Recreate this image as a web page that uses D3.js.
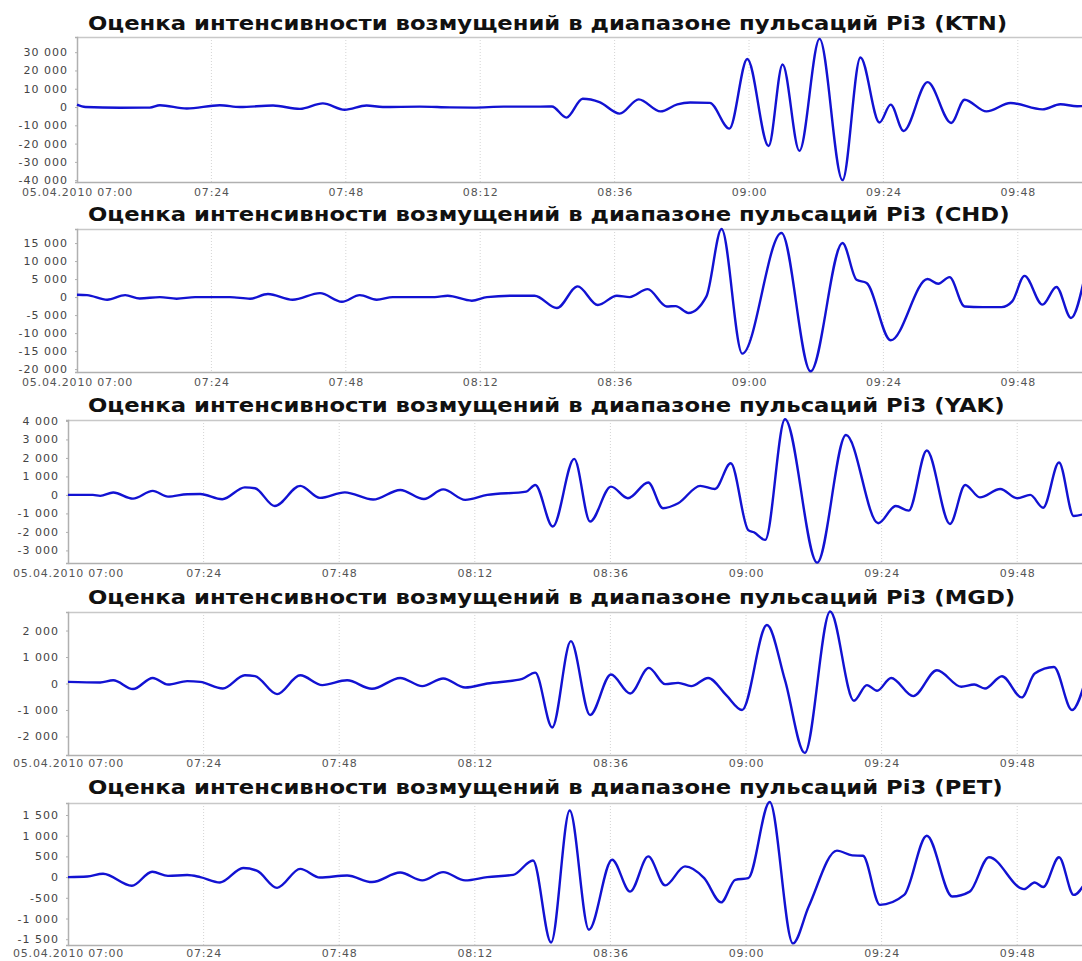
<!DOCTYPE html>
<html>
<head>
<meta charset="utf-8">
<script src="https://cdn.jsdelivr.net/npm/d3@7"></script>
<style>
  html, body { margin: 0; padding: 0; background: #fff; }
  svg { display: block; }
</style>
</head>
<body>
<svg id="chart" width="1082" height="961"></svg>
<script>
// ---------- DATA ----------
const startTime = "2010-04-05T07:00:00";
const endMinutes = 180;
const xTickMinutes = [0, 24, 48, 72, 96, 120, 144, 168];
const stations = ["KTN", "CHD", "YAK", "MGD", "PET"];
const titlePrefix = "Оценка интенсивности возмущений в диапазоне пульсаций Pi3";

// minutes after 07:00 / values
const ktnT = [0, 1.5, 7.7, 13.0, 14.8, 19.6, 25.5, 29.1, 35.0, 39.8, 43.9, 47.8, 51.7, 54.6, 61.2, 66.6, 70.8, 76.2, 80.8, 84.8, 87.4, 90.3, 93.3, 96.9, 100.3, 104.2, 107.2, 109.5, 113.0, 116.5, 119.7, 123.5, 126.0, 129.0, 132.6, 136.7, 139.9, 143.3, 145.3, 147.6, 151.9, 156.1, 158.5, 162.4, 166.7, 172.4, 175.6, 178.6, 180.8];
const ktnV = [1300, 0, -400, -300, 1000, -800, 1000, 0, 800, -1000, 2000, -1500, 800, 0, 200, -200, -300, 200, 200, 300, -5800, 4500, 2700, -3600, 4200, -2400, 1500, 2500, 2300, -11800, 26300, -21300, 23300, -24000, 37300, -40000, 27100, -8500, 1300, -13100, 13600, -8700, 4000, -2400, 2200, -1300, 1500, 400, 800];

const chdT = [0, 1.8, 5.4, 8.6, 11.2, 14.8, 17.8, 21.1, 27.3, 30.9, 34.1, 38.5, 43.4, 47.3, 50.5, 53.5, 56.4, 63.9, 66.2, 70.5, 73.2, 77.8, 81.7, 85.7, 89.4, 93.0, 96.4, 98.7, 101.9, 105.3, 106.9, 109.2, 112.4, 115.1, 118.8, 125.8, 131.0, 136.7, 139.2, 141.0, 145.3, 151.9, 153.8, 155.8, 158.5, 161.7, 165.1, 167.0, 169.2, 172.4, 174.9, 177.5, 180.0];
const chdV = [650, 550, -750, 550, -400, 0, -450, 0, 0, -450, 850, -750, 1100, -1300, 550, -750, 0, 0, 370, -1000, 0, 370, 370, -3050, 2960, -2200, 370, 0, 2200, -2600, -2500, -4400, 200, 18900, -15700, 17800, -20600, 15000, 4800, 3900, -12000, 5000, 3700, 5550, -2600, -2800, -2800, -1200, 5900, -2100, 2800, -5800, 6000];

const yakT = [0, 4.4, 5.7, 8.0, 11.5, 15.0, 17.7, 21.1, 23.4, 27.3, 31.3, 33.1, 36.6, 41.1, 44.6, 49.0, 54.0, 58.8, 63.0, 66.4, 70.3, 74.2, 81.1, 82.7, 85.8, 89.6, 92.4, 96.1, 99.1, 102.7, 105.3, 108.0, 111.9, 114.5, 117.3, 120.4, 121.4, 123.4, 126.9, 132.6, 137.7, 143.4, 146.5, 148.8, 152.0, 156.1, 158.8, 161.4, 165.0, 168.0, 170.3, 172.6, 175.4, 178.0, 180.2];
const yakV = [0, 0, -50, 130, -200, 220, -90, 40, 50, -230, 410, 360, -600, 490, -160, 140, -250, 270, -220, 300, -270, 0, 180, 540, -1710, 1950, -1440, 450, -180, 670, -720, -450, 490, 320, 1710, -1900, -2020, -2430, 4090, -3660, 3240, -1530, -600, -850, 2400, -1570, 540, -130, 320, -180, 0, -690, 1750, -1140, -1000];

const mgdT = [0, 5.7, 8.0, 11.5, 15.0, 17.7, 21.1, 23.4, 27.4, 31.3, 33.1, 37.0, 41.1, 45.0, 49.4, 53.8, 58.8, 62.7, 66.4, 70.3, 74.2, 80.4, 82.7, 85.7, 89.0, 92.4, 96.1, 99.5, 102.8, 105.7, 108.0, 110.3, 113.3, 116.5, 119.3, 123.7, 126.9, 130.4, 134.9, 139.1, 141.4, 143.2, 145.7, 149.6, 153.8, 158.1, 160.4, 162.3, 165.3, 168.8, 171.1, 174.5, 177.7, 180.2];
const mgdV = [60, 40, 120, -210, 210, -40, 90, 60, -190, 310, 280, -400, 310, -60, 120, -200, 210, -100, 190, -150, 0, 175, 410, -1660, 1600, -1190, 340, -375, 590, -25, 25, -100, 210, -440, -1000, 2210, 125, -2620, 2720, -650, -60, -275, 210, -475, 500, -125, -40, -190, 275, -525, 375, 625, -1000, 200];

const petT = [0, 3.4, 6.2, 11.3, 14.9, 17.7, 21.1, 23.4, 26.9, 31.0, 33.5, 37.0, 41.1, 44.6, 49.4, 53.8, 58.8, 62.7, 66.4, 70.3, 74.2, 78.8, 82.3, 85.5, 88.8, 92.2, 96.3, 99.5, 102.7, 105.7, 109.2, 112.6, 115.6, 118.1, 120.4, 124.2, 128.3, 131.1, 136.1, 138.8, 140.7, 143.7, 148.0, 152.0, 156.5, 159.6, 163.0, 169.2, 171.1, 172.6, 175.4, 178.0, 180.2];
const petV = [0, 15, 80, -210, 130, 30, 50, 0, -130, 220, 150, -260, 200, -10, 40, -120, 110, -80, 120, -80, 0, 55, 400, -1580, 1610, -1270, 420, -350, 500, -200, 260, -25, -610, -65, -25, 1815, -1600, -710, 640, 525, 515, -670, -430, 1000, -470, -350, 480, -290, -130, -240, 480, -430, -100];

const seriesT = [ktnT, chdT, yakT, mgdT, petT];
const seriesV = [ktnV, chdV, yakV, mgdV, petV];
const yDomains = [[-41000, 38300], [-20800, 18900], [-3680, 4050], [-2700, 2700], [-1640, 1790]];
const yTickSteps = [10000, 5000, 1000, 1000, 500];

// ---------- LAYOUT ----------
const layout = [
  { left: 77, top: 37,  bottom: 182, titleY: 30,  labelY: 196 },
  { left: 77, top: 229, bottom: 372, titleY: 221, labelY: 386 },
  { left: 68, top: 420, bottom: 563, titleY: 412, labelY: 577 },
  { left: 68, top: 612, bottom: 755, titleY: 604, labelY: 767 },
  { left: 68, top: 803, bottom: 945, titleY: 794, labelY: 957 }
];
const rightEdge = 1085;
const titleLeft = 88;
const titleWidth = 920;
const titleSize = 19.5;

const svg = d3.select("#chart");
const t0 = new Date(startTime);
const toDate = m => new Date(t0.getTime() + m * 60000);

const locale = d3.formatLocale({ decimal: ",", thousands: " ", grouping: [3], currency: ["", ""], minus: "-" });
const numFmt = locale.format(",d");
const timeFmt = d3.timeFormat("%H:%M");

// horizontal stretch so the title spans the same width as the original (wide lettering)
let titleStretch = 1;
{
  const probe = svg.append("text").attr("font-family", "DejaVu Sans").attr("font-weight", "bold")
    .attr("font-size", titleSize).text(titlePrefix + " (KTN)");
  titleStretch = titleWidth / probe.node().getComputedTextLength();
  probe.remove();
}

stations.forEach((st, i) => {
  const L = layout[i];
  const g = svg.append("g");
  const x = d3.scaleTime().domain([toDate(0), toDate(endMinutes)]).range([L.left, rightEdge]);
  const y = d3.scaleLinear().domain(yDomains[i]).range([L.bottom, L.top]);

  // title
  g.append("text")
    .attr("transform", `translate(${titleLeft},${L.titleY}) scale(${titleStretch},1)`)
    .attr("font-family", "DejaVu Sans").attr("font-weight", "bold")
    .attr("font-size", titleSize).attr("fill", "#111")
    .text(`${titlePrefix} (${st})`);

  // vertical grid lines
  const tickDates = xTickMinutes.map(toDate);
  g.append("g").selectAll("line").data(tickDates.slice(1)).join("line")
    .attr("x1", d => x(d)).attr("x2", d => x(d))
    .attr("y1", L.top).attr("y2", L.bottom)
    .attr("stroke", "#d4d4d4").attr("stroke-width", 1)
    .attr("stroke-dasharray", "1,2");

  // top border
  g.append("line").attr("x1", L.left).attr("x2", rightEdge)
    .attr("y1", L.top + 0.5).attr("y2", L.top + 0.5)
    .attr("stroke", "#c8c8c8").attr("stroke-width", 1.5);

  // x axis
  const xAxis = d3.axisBottom(x).tickValues(tickDates).tickSize(0).tickPadding(0)
    .tickFormat((d, k) => k === 0 ? "05.04.2010 " + timeFmt(d) : timeFmt(d));
  const xa = g.append("g").attr("transform", `translate(0,${L.bottom})`).call(xAxis);
  xa.select(".domain").attr("stroke", "#b0b0b0").attr("stroke-width", 1.5);
  xa.selectAll("text")
    .attr("y", L.labelY - L.bottom).attr("dy", 0)
    .attr("font-family", "DejaVu Sans").attr("font-size", 11).attr("fill", "#555")
    .attr("letter-spacing", 0.8);

  // y axis
  const [d0, d1] = yDomains[i];
  const step = yTickSteps[i];
  const yTicks = d3.range(Math.ceil(d0 / step) * step, d1 + 1, step);
  const yAxis = d3.axisLeft(y).tickValues(yTicks).tickSize(2).tickPadding(7).tickFormat(numFmt);
  const ya = g.append("g").attr("transform", `translate(${L.left},0)`).call(yAxis);
  ya.select(".domain").attr("stroke", "#b0b0b0").attr("stroke-width", 1.5);
  ya.selectAll(".tick line").attr("stroke", "#b0b0b0");
  ya.selectAll("text")
    .attr("font-family", "DejaVu Sans").attr("font-size", 11).attr("fill", "#444")
    .attr("letter-spacing", 1);

  // line
  const pts = seriesT[i].map((m, k) => [toDate(m), seriesV[i][k]]);
  const line = d3.line().x(d => x(d[0])).y(d => y(d[1])).curve(d3.curveMonotoneX);
  g.append("path").datum(pts)
    .attr("d", line)
    .attr("fill", "none")
    .attr("stroke", "#1212d2")
    .attr("stroke-width", 2.4)
    .attr("stroke-linejoin", "round");
});
</script>
</body>
</html>
